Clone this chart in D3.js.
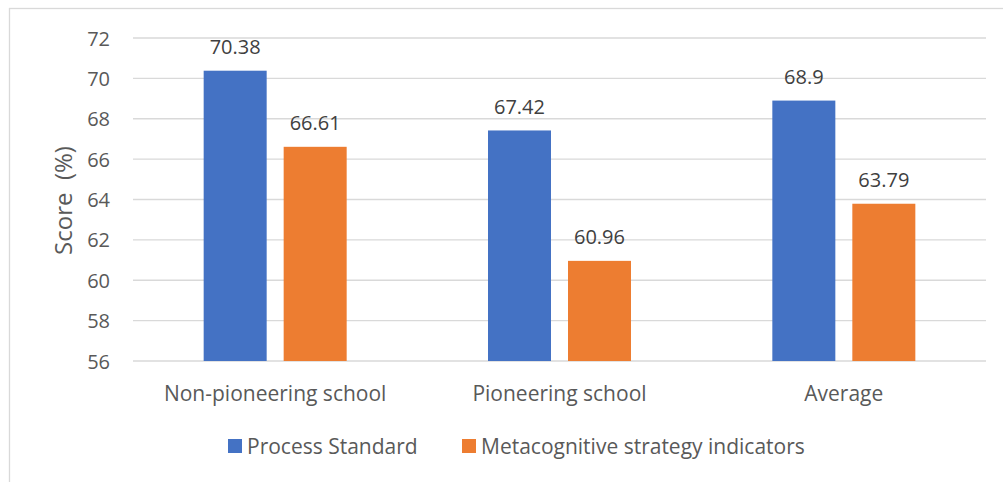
<!DOCTYPE html>
<html>
<head>
<meta charset="utf-8">
<script src="https://cdn.jsdelivr.net/npm/d3@7"></script>
<style>
  body { margin: 0; background: #fff; }
  text { font-family: "Open Sans", sans-serif; fill: #595959; }
</style>
</head>
<body>
<div id="chart"></div>
<script>
const width = 1003, height = 482;

const categories = ["Non-pioneering school", "Pioneering school", "Average"];
const seriesNames = ["Process Standard", "Metacognitive strategy indicators"];
const processStandard = [70.38, 67.42, 68.9];
const metacognitive = [66.61, 60.96, 63.79];
const yTicks = [56, 58, 60, 62, 64, 66, 68, 70, 72];
const colors = ["#4472C4", "#ED7D31"];

const plot = { left: 133, right: 986, top: 38, bottom: 361 };

const svg = d3.select("#chart").append("svg")
    .attr("width", width)
    .attr("height", height);

// chart frame
svg.append("rect")
    .attr("x", 9.5).attr("y", 8.5)
    .attr("width", 1010).attr("height", 490)
    .attr("fill", "none")
    .attr("stroke", "#d9d9d9")
    .attr("stroke-width", 1.3);

const x = d3.scaleBand()
    .domain(categories)
    .range([plot.left, plot.right]);

// two bars of ~63px with a ~17px gap, centred in each category
const groupW = 143;
const x1 = d3.scaleBand()
    .domain(seriesNames)
    .range([(x.bandwidth() - groupW) / 2, (x.bandwidth() + groupW) / 2])
    .paddingInner(0.2125);

const y = d3.scaleLinear()
    .domain([56, 72])
    .range([plot.bottom, plot.top]);

// gridlines
svg.append("g")
    .selectAll("line")
    .data(yTicks)
    .join("line")
    .attr("x1", plot.left).attr("x2", plot.right)
    .attr("y1", d => y(d)).attr("y2", d => y(d))
    .attr("stroke", "#d9d9d9")
    .attr("stroke-width", 1.3);

// y tick labels
svg.append("g")
    .selectAll("text")
    .data(yTicks)
    .join("text")
    .attr("x", 110)
    .attr("y", d => y(d))
    .attr("text-anchor", "end")
    .attr("dominant-baseline", "central")
    .style("font-size", "20px")
    .text(d => d);

// y title
svg.append("text")
    .attr("transform", `translate(62,${(plot.top + plot.bottom) / 2 + 1}) rotate(-90)`)
    .attr("text-anchor", "middle")
    .attr("dominant-baseline", "central")
    .style("font-size", "24px")
    .style("white-space", "pre")
    .text("Score  (%)");

const rows = categories.map((c, i) => ({
    cat: c,
    vals: [
        { s: seriesNames[0], v: processStandard[i], c: colors[0] },
        { s: seriesNames[1], v: metacognitive[i], c: colors[1] }
    ]
}));

const groups = svg.append("g")
    .selectAll("g")
    .data(rows)
    .join("g")
    .attr("transform", d => `translate(${x(d.cat)},0)`);

groups.selectAll("rect")
    .data(d => d.vals)
    .join("rect")
    .attr("x", d => x1(d.s))
    .attr("width", x1.bandwidth())
    .attr("y", d => y(d.v))
    .attr("height", d => y(56) - y(d.v))
    .attr("fill", d => d.c);

groups.selectAll("text")
    .data(d => d.vals)
    .join("text")
    .attr("x", d => x1(d.s) + x1.bandwidth() / 2)
    .attr("y", d => y(d.v) - 24)
    .attr("text-anchor", "middle")
    .attr("dominant-baseline", "central")
    .style("font-size", "20px")
    .style("fill", "#404040")
    .text(d => d.v);

// x labels
svg.append("g")
    .selectAll("text")
    .data(categories)
    .join("text")
    .attr("x", d => x(d) + x.bandwidth() / 2)
    .attr("y", 393)
    .attr("text-anchor", "middle")
    .attr("dominant-baseline", "central")
    .style("font-size", "21px")
    .text(d => d);

// legend
const legendX = [228, 462];
const legend = svg.append("g")
    .selectAll("g")
    .data(seriesNames)
    .join("g")
    .attr("transform", (d, i) => `translate(${legendX[i]},439)`);

legend.append("rect")
    .attr("width", 14).attr("height", 14)
    .attr("fill", (d, i) => colors[i]);

legend.append("text")
    .attr("x", 19).attr("y", 7)
    .attr("dominant-baseline", "central")
    .style("font-size", "21px")
    .text(d => d);
</script>
</body>
</html>
